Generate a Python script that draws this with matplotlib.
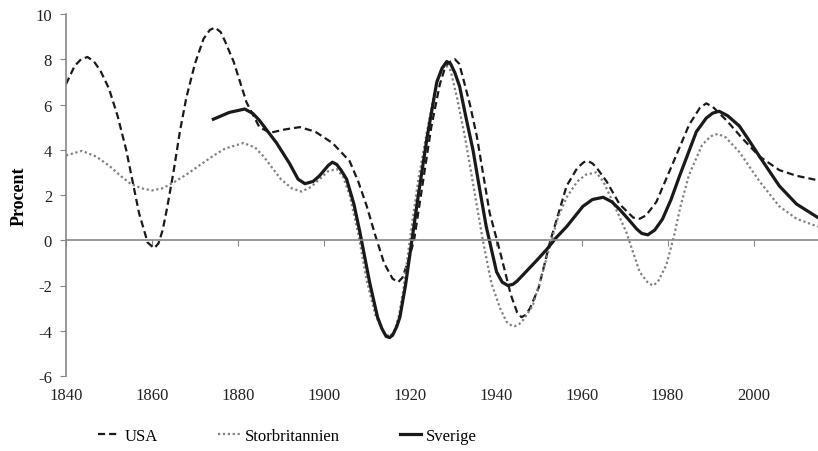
import matplotlib
matplotlib.use('Agg')
import matplotlib.pyplot as plt

# USA (streckad)
usa_years = [1840, 1842, 1843.5, 1845, 1846.5, 1848, 1850, 1852, 1854, 1857, 1859, 1860.5,
             1861.5, 1862.5, 1863.5, 1865, 1866.5, 1868, 1870, 1872, 1873.5, 1874.7, 1876,
             1877, 1879, 1882, 1885, 1887.5, 1891, 1894.4, 1898, 1902, 1906, 1908, 1910,
             1912, 1914, 1916, 1917.3, 1918.3, 1919.5, 1921, 1923, 1925, 1927, 1928, 1929,
             1930.5, 1931.5, 1932.5, 1934, 1935.6, 1938.6, 1941, 1943.5, 1945, 1946, 1947,
             1948, 1950, 1952.6, 1956.5, 1959, 1960.5, 1961.4, 1962.5, 1963.5, 1965.8,
             1968.8, 1972, 1973.5, 1975, 1977.4, 1981, 1985, 1987.5, 1989, 1990.5, 1993.7,
             1997.4, 2001.4, 2006, 2010, 2015]
usa_vals = [6.9, 7.7, 8.0, 8.1, 7.9, 7.5, 6.7, 5.5, 4.0, 1.2, -0.1, -0.35,
            -0.15, 0.45, 1.4, 3.0, 4.8, 6.3, 7.8, 8.9, 9.3, 9.4, 9.2,
            8.8, 7.9, 6.1, 5.0, 4.75, 4.9, 5.0, 4.8, 4.3, 3.5, 2.6, 1.5,
            0.2, -1.0, -1.7, -1.85, -1.65, -1.0, 0.0, 2.5, 5.0, 6.9, 7.5, 7.85,
            8.0, 7.8, 7.1, 6.0, 4.6, 1.2, -0.5, -2.4, -3.2, -3.4, -3.3,
            -3.0, -2.1, -0.1, 2.4, 3.2, 3.45, 3.5, 3.4, 3.2, 2.6,
            1.6, 1.0, 0.95, 1.1, 1.7, 3.3, 5.1, 5.85, 6.05, 5.9, 5.3,
            4.5, 3.7, 3.1, 2.85, 2.65]

# Storbritannien (prickad)
gb_years = [1840, 1843.7, 1847, 1850, 1853, 1855, 1857.5, 1860, 1862.5, 1865, 1868, 1871,
            1874, 1877, 1881.3, 1884, 1886, 1888, 1890, 1892.5, 1894.8, 1897, 1899, 1901,
            1903, 1904.5, 1906, 1908, 1910, 1912, 1914, 1915.3, 1916.5, 1917.5, 1918.5,
            1920, 1922, 1924, 1926, 1927.3, 1928.3, 1929.5, 1931, 1933, 1935, 1937, 1939,
            1941, 1942.5, 1943.5, 1944.4, 1945.5, 1946.5, 1948.6, 1950.5, 1952.6, 1954.5,
            1956.5, 1959, 1961, 1963.4, 1965, 1967, 1970.4, 1973.5, 1975.5, 1976.6, 1977.7,
            1979.7, 1981.5, 1983, 1985, 1988, 1990, 1991.7, 1993.5, 1996.7, 2001.4, 2006,
            2010, 2015]
gb_vals = [3.75, 3.95, 3.7, 3.3, 2.8, 2.5, 2.3, 2.2, 2.3, 2.55, 2.9, 3.3,
           3.7, 4.05, 4.3, 4.1, 3.7, 3.2, 2.7, 2.3, 2.15, 2.35, 2.7, 3.05,
           3.15, 2.8, 2.0, 0.3, -1.8, -3.3, -4.1, -4.25, -4.0, -3.3, -2.2,
           0.0, 2.7, 4.8, 6.8, 7.5, 7.75, 7.5, 6.3, 4.4, 2.2, 0.0, -1.9,
           -3.0, -3.6, -3.75, -3.8, -3.7, -3.5, -2.9, -1.7, -0.25, 1.0,
           1.9, 2.6, 2.9, 3.0, 2.6, 1.8, 0.35, -1.4, -1.9, -2.0, -1.85,
           -1.1, 0.2, 1.5, 2.9, 4.2, 4.6, 4.7, 4.55, 3.9, 2.6, 1.5,
           0.95, 0.6]

# Sverige (heldragen)
se_years = [1874.3, 1878, 1881.6, 1883.5, 1885, 1887, 1889, 1892, 1894, 1895.6, 1897.5, 1899,
            1901, 1902, 1903, 1904, 1905.3, 1907, 1908.4, 1910.7, 1912.5, 1913.5, 1914.5,
            1915.3, 1916, 1917, 1917.7, 1919, 1920.5, 1922, 1924, 1926.3, 1927.5, 1928.6,
            1929.5, 1930.5, 1931.6, 1933, 1934.7, 1936.5, 1937.8, 1940.2, 1941.5, 1942.8,
            1944, 1945, 1947, 1949.5, 1951.9, 1954, 1956.5, 1960.3, 1962.5, 1965, 1967,
            1968.8, 1971, 1972.8, 1974, 1975.4, 1977, 1978.8, 1980.8, 1982.8, 1986.7, 1989,
            1990.5, 1992, 1994, 1996.7, 1999, 2001.4, 2006, 2010, 2015]
se_vals = [5.35, 5.65, 5.8, 5.6, 5.3, 4.8, 4.3, 3.4, 2.7, 2.5, 2.6, 2.85,
           3.3, 3.45, 3.35, 3.1, 2.7, 1.6, 0.35, -1.9, -3.4, -3.9, -4.25,
           -4.3, -4.2, -3.8, -3.4, -2.0, 0.0, 2.0, 4.5, 7.0, 7.6, 7.9,
           7.8, 7.4, 6.8, 5.5, 4.0, 2.0, 0.6, -1.4, -1.85, -2.0,
           -1.95, -1.8, -1.4, -0.9, -0.4, 0.1, 0.6, 1.5, 1.8, 1.9, 1.7,
           1.37, 0.9, 0.5, 0.3, 0.24, 0.45, 0.93, 1.8, 2.85, 4.8, 5.4,
           5.62, 5.7, 5.5, 5.05, 4.4, 3.7, 2.4, 1.6, 1.0]

x_ticks = [1840, 1860, 1880, 1900, 1920, 1940, 1960, 1980, 2000]
y_ticks = [-6, -4, -2, 0, 2, 4, 6, 8, 10]

plt.rcParams['font.family'] = ['Liberation Serif', 'DejaVu Serif']
plt.rcParams['axes.unicode_minus'] = False

fig = plt.figure(figsize=(8.18, 4.52), dpi=100)
ax = fig.add_axes([66 / 818, 1 - 377 / 452, 1 - 66 / 818, (377 - 15) / 452])

ax.plot(usa_years, usa_vals, color='#1a1a1a', lw=1.6, dashes=(3.2, 1.8), label='USA')
ax.plot(gb_years, gb_vals, color='#808080', lw=1.6, dashes=(1, 1.2), label='Storbritannien')
ax.plot(se_years, se_vals, color='#1a1a1a', lw=2.3, label='Sverige')

ax.set_xlim(1840, 2015)
ax.set_ylim(-6, 10)
ax.set_yticks(y_ticks)
ax.set_yticklabels([str(v) for v in y_ticks], fontsize=12, color='#222222')

gray = '#888888'
for side in ['top', 'right']:
    ax.spines[side].set_visible(False)
ax.spines['left'].set_color(gray)
ax.spines['bottom'].set_color(gray)
ax.spines['bottom'].set_position(('data', 0))
ax.spines['left'].set_linewidth(1.2)
ax.spines['bottom'].set_linewidth(1.2)

ax.set_xticks(x_ticks)
ax.tick_params(axis='x', direction='out', length=4, color=gray, labelbottom=False)
ax.tick_params(axis='y', direction='out', length=4, color=gray, pad=6)

# tick labels at the bottom of the plot, below -6
sec = ax.secondary_xaxis(0.0)
sec.set_xticks(x_ticks)
sec.set_xticklabels([str(v) for v in x_ticks], fontsize=12, color='#222222')
sec.spines['bottom'].set_visible(False)
sec.tick_params(length=0, pad=8)

ax.set_ylabel('Procent', fontsize=13, fontweight='bold', labelpad=6)

fig.legend(loc='center left', bbox_to_anchor=(83 / 818, 1 - 437 / 452), ncol=3,
           frameon=False, fontsize=12, handlelength=1.3, handletextpad=0.3,
           columnspacing=3.6)

plt.savefig('out.png', dpi=100)
plt.close('all')
